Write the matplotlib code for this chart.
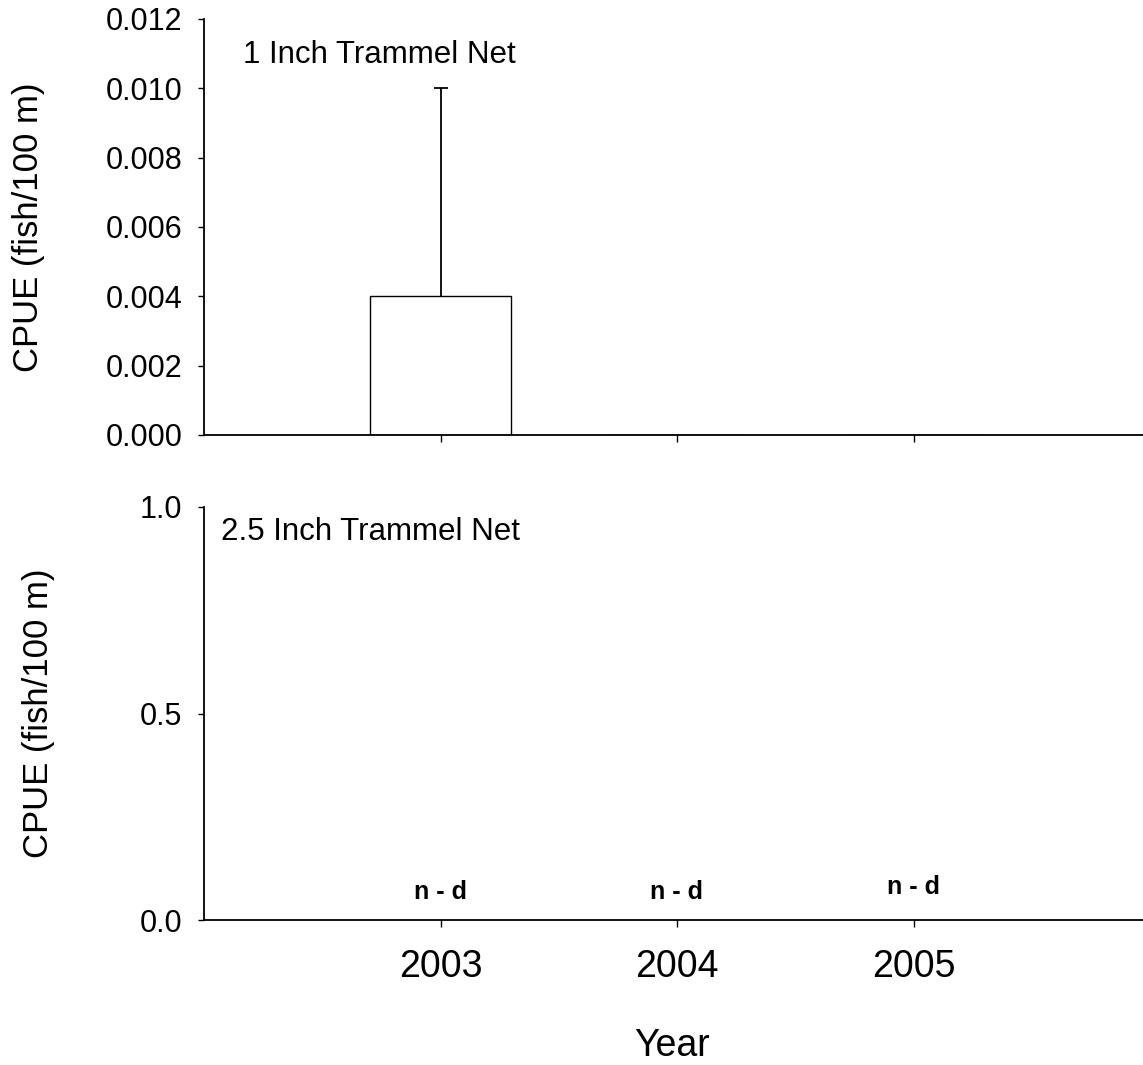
import matplotlib
matplotlib.use("Agg")
import matplotlib.pyplot as plt
import numpy as np

plt.rcParams['font.family'] = ['Liberation Sans', 'DejaVu Sans']

years = [2003, 2004, 2005]
cpue_1in = [0.004, 0.0, 0.0]
se_1in = [0.006, 0.0, 0.0]
nd_labels = ["n - d", "n - d", "n - d"]
nd_y = [0.068, 0.068, 0.080]

W, H = 1143, 1065
fig = plt.figure(figsize=(W / 100, H / 100), dpi=100)

def px_axes(left, top, right, bottom):
    return fig.add_axes([left / W, 1 - bottom / H, (right - left) / W, (bottom - top) / H])

ax1 = px_axes(204, 19, 1150, 435)
ax2 = px_axes(204, 507, 1150, 920)

for ax in (ax1, ax2):
    ax.spines['top'].set_visible(False)
    ax.spines['right'].set_visible(False)
    for s in ('left', 'bottom'):
        ax.spines[s].set_linewidth(1.3)
    ax.set_xlim(2002, 2006)
    ax.set_xticks(years)
    ax.tick_params(axis='y', direction='out', length=4.5, width=1.0, labelsize=22, pad=11)
    ax.tick_params(axis='x', direction='out', length=5, width=1.0, labelsize=22, pad=12)
    ax.set_ylabel("CPUE (fish/100 m)", fontsize=25)

ax1.yaxis.set_label_coords(-0.168, 0.5)
ax2.yaxis.set_label_coords(-0.1575, 0.5)

# 1 inch trammel net panel: bars with upper standard-error whiskers
ax1.bar(years, cpue_1in, width=0.6, color='white', edgecolor='black', linewidth=1.0, zorder=2)
yr = np.array(years)
c = np.array(cpue_1in)
e = np.array(se_1in)
m = e > 0
ax1.vlines(yr[m], c[m], c[m] + e[m], color='black', linewidth=1.3, zorder=3)
ax1.plot(yr[m], c[m] + e[m], linestyle='none', marker='_', markersize=10.5,
         markeredgewidth=1.3, color='black', zorder=3)
ax1.set_ylim(0, 0.012)
ticks1 = np.arange(0, 0.0121, 0.002)
ax1.set_yticks(ticks1)
ax1.set_yticklabels([f"{v:.3f}" for v in ticks1])
ax1.set_xticklabels([])
ax1.text(2002.165, 0.01095, "1 Inch Trammel Net", fontsize=22.5, va='center', ha='left')

# 2.5 inch trammel net panel: no data collected
ax2.set_ylim(0, 1.0)
ax2.set_yticks([0, 0.5, 1.0])
ax2.set_yticklabels(["0.0", "0.5", "1.0"])
ax2.set_xticklabels([str(y) for y in years], fontsize=27)
ax2.tick_params(axis='x', pad=16)
ax2.text(2002.07, 0.94, "2.5 Inch Trammel Net", fontsize=22.5, va='center', ha='left')
for x, lab, y in zip(years, nd_labels, nd_y):
    ax2.text(x, y, lab, fontsize=18, fontweight='bold', ha='center', va='center')

fig.text(672 / W, 1 - 1046 / H, "Year", fontsize=27, ha='center', va='center')

fig.savefig("out.png", dpi=100)
